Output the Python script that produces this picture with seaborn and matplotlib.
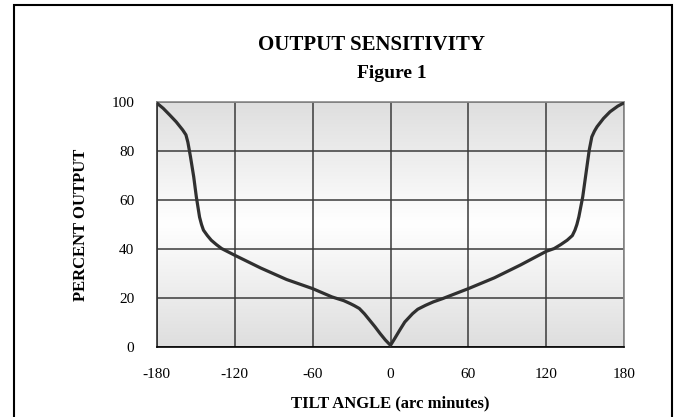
import matplotlib
matplotlib.use('Agg')
import matplotlib.pyplot as plt
from matplotlib.colors import LinearSegmentedColormap
from matplotlib.patches import Rectangle
import seaborn as sns
import numpy as np

# tilt angle (arc minutes) and percent output
tilt = [-180, -175, -170, -165, -160, -157.5, -156, -154, -151.5, -149.5, -147,
        -145.5, -144, -141, -138, -134, -130, -120, -100, -80, -60, -45, -36,
        -31, -28, -24, -20, -16, -12, -8, -4, 0,
        3.5, 7, 11, 17, 21, 27, 33, 40, 60, 80, 100, 120, 126, 131, 136, 140,
        142, 143.5, 145, 148, 150.5, 153, 155, 157, 159, 164, 169, 175, 180]
output = [99.5, 97.3, 94.6, 91.8, 88.5, 86.5, 83.5, 77.6, 69.4, 61.3, 53.0,
          50.0, 47.7, 45.5, 43.6, 41.8, 40.2, 37.5, 32.3, 27.6, 23.9, 20.5, 19.0,
          17.8, 17.0, 15.8, 13.6, 11.0, 8.4, 5.6, 3.0, 0.8,
          3.8, 6.9, 10.3, 13.7, 15.5, 17.1, 18.5, 19.8, 23.9, 28.3, 33.5, 39.1,
          40.2, 41.8, 43.6, 45.5, 47.7, 50.0, 53.1, 61.3, 70.8, 80.3, 85.7,
          88.0, 89.8, 93.2, 95.9, 98.2, 99.6]

x_ticks = [-180, -120, -60, 0, 60, 120, 180]
y_ticks = [0, 20, 40, 60, 80, 100]

title = 'OUTPUT SENSITIVITY'
subtitle = 'Figure 1'

sns.set_style('white')
plt.rcParams['font.family'] = ['Liberation Serif', 'DejaVu Serif']
plt.rcParams['axes.unicode_minus'] = False
plt.rcParams['text.color'] = 'black'
plt.rcParams['xtick.color'] = 'black'
plt.rcParams['ytick.color'] = 'black'

W, H = 677, 417
fig = plt.figure(figsize=(W / 100, H / 100), dpi=100)
ax = fig.add_axes([156.7 / W, 1 - 347.3 / H, (624.3 - 156.7) / W, (347.3 - 101.7) / H])

# gray - white - gray background of the plot area
cmap = LinearSegmentedColormap.from_list('bg', ['#dedede', '#ffffff', '#dedede'])
grad = np.linspace(0, 1, 256).reshape(-1, 1)
ax.imshow(grad, extent=[0, 1, 0, 1], transform=ax.transAxes, aspect='auto',
          cmap=cmap, zorder=0, interpolation='bicubic')

sns.lineplot(x=tilt, y=output, sort=False, estimator=None, ax=ax,
             color='#303030', linewidth=2.3, zorder=3,
             solid_joinstyle='round', solid_capstyle='round')

ax.set_xlim(-180, 180)
ax.set_ylim(0, 100)
ax.set_xticks(x_ticks)
ax.set_yticks(y_ticks)
ax.set_axisbelow(True)
ax.grid(True, color='#3a3a3a', linewidth=1.1)

for side in ['top', 'right']:
    ax.spines[side].set_color('#8a8a8a')
    ax.spines[side].set_linewidth(1.2)
ax.spines['left'].set_color('#303030')
ax.spines['bottom'].set_color('#000000')
ax.spines['left'].set_linewidth(1.2)
ax.spines['bottom'].set_linewidth(1.2)

ax.tick_params(axis='both', direction='out', length=5, width=1.1, color='#202020',
               labelsize=11, pad=10, labelcolor='black')
ax.tick_params(axis='y', pad=11)
ax.set_xlabel('')
ax.set_ylabel('')

fig.text(372 / W, 1 - 45 / H, title, ha='center', va='center',
         fontsize=15, fontweight='bold', color='black')
fig.text(392 / W, 1 - 74 / H, subtitle, ha='center', va='center',
         fontsize=14, fontweight='bold', color='black')
fig.text(390 / W, 1 - 403 / H, 'TILT ANGLE (arc minutes)', ha='center', va='center',
         fontsize=12, fontweight='bold', color='black')
fig.text(81 / W, 1 - 225 / H, 'PERCENT OUTPUT', ha='center', va='center',
         rotation=90, fontsize=12, fontweight='bold', color='black')

# chart frame (bottom edge runs past the image)
fig.patches.append(Rectangle((13.5 / W, -0.1), (672 - 13.5) / W, 1.1 - 5.5 / H,
                             transform=fig.transFigure, fill=False,
                             edgecolor='black', linewidth=1.5))

fig.savefig('out.png', dpi=100)
